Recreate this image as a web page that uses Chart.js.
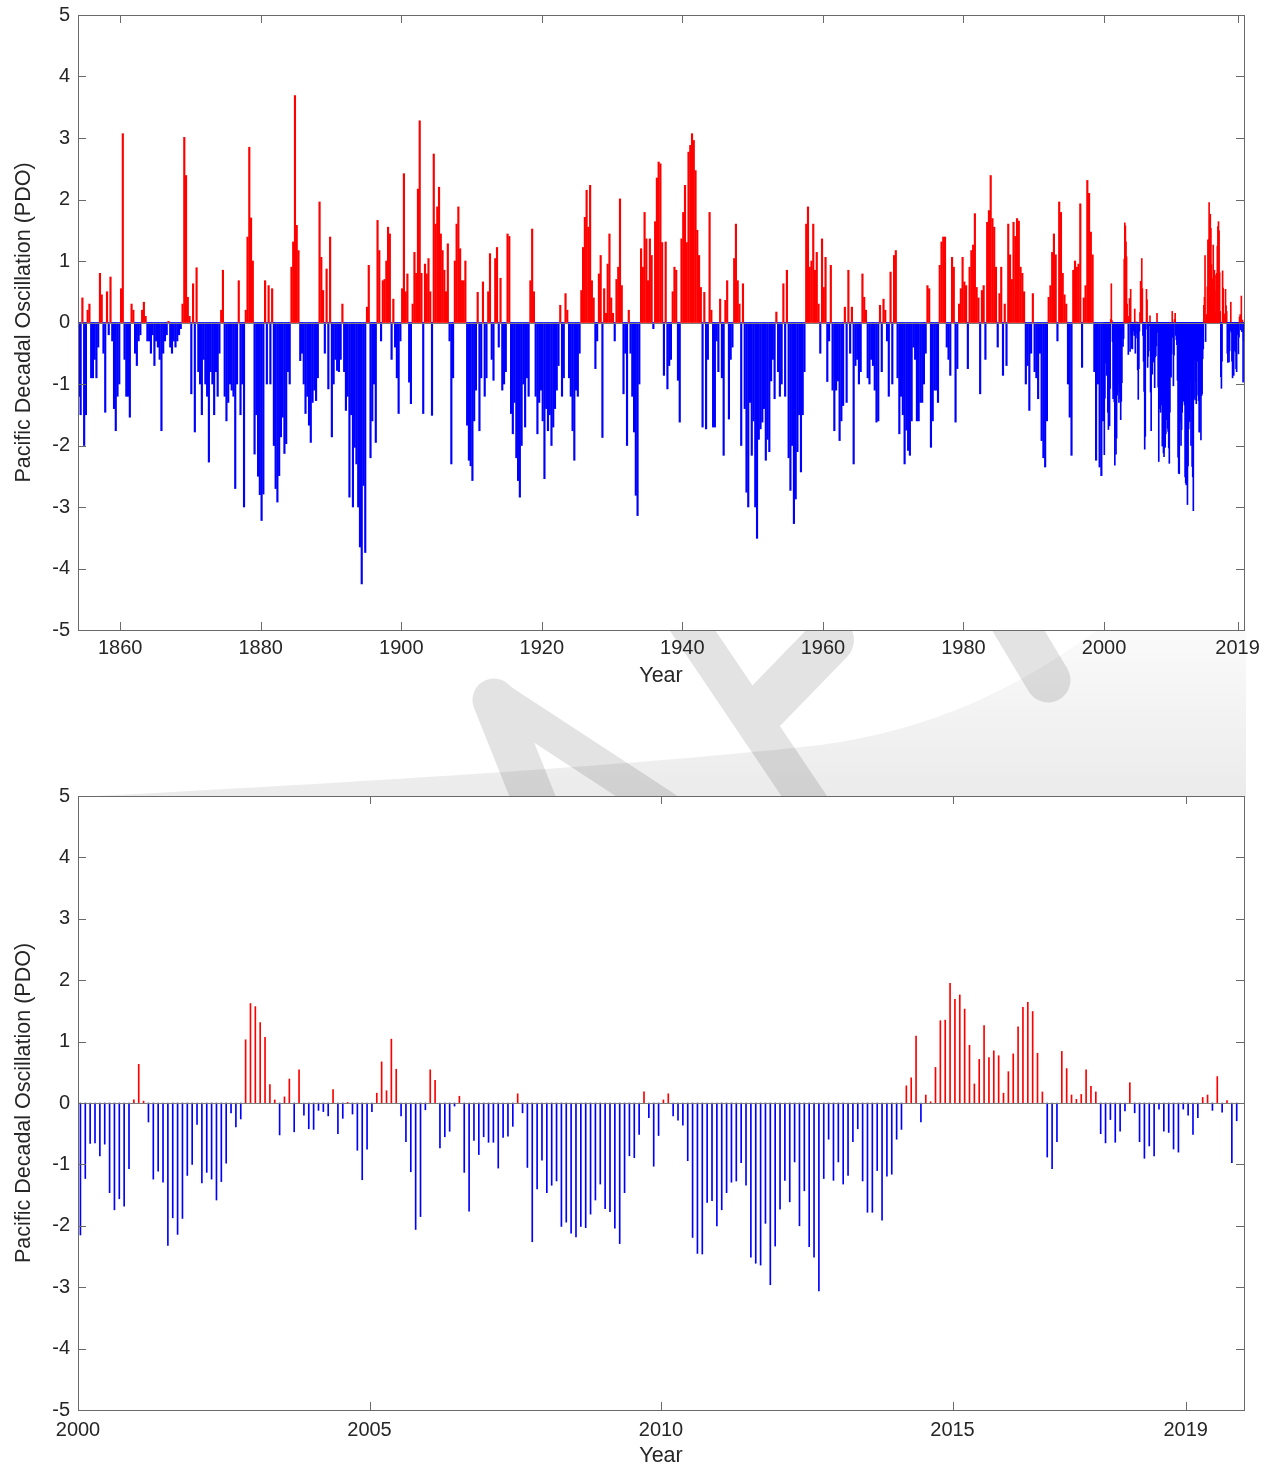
<!DOCTYPE html>
<html>
<head>
<meta charset="utf-8">
<script src="https://cdn.jsdelivr.net/npm/chart.js"></script>
<style>
  body { margin:0; background:#fff; }
  #wrap { position:relative; width:1271px; height:1469px; }
  canvas { display:block; }
  #bg { position:absolute; left:0; top:0; }
  .box { position:absolute; left:0; }
</style>
</head>
<body>
<div id="wrap">
  <canvas id="bg" width="1271" height="1469"></canvas>
  <div class="box" style="top:0px"><canvas id="dia1" width="1271" height="700"></canvas></div>
  <div class="box" style="top:781px"><canvas id="dia2" width="1271" height="688"></canvas></div>
</div>
<script>
// PDO, 4 values a year, 1854-1899
const pdo1854 = [
 -1.2,-1.5,0.4,-2.0, -1.5,0.2,0.3,-0.9, -0.9,-0.6,-0.9,-0.4,
 0.8,0.45,-0.5,-1.46, 0.5,-0.2,0.74,-0.3, -1.4,-1.76,-1.2,-1.0,
 0.55,3.07,-0.6,-1.2, -1.2,-1.54,0.3,0.2, -0.5,-0.7,-0.3,-0.2,
 0.2,0.33,0.1,-0.3, -0.3,-0.5,-0.2,-0.7, -0.3,-0.4,-0.6,-1.76,
 -0.5,-0.3,-0.2,0.02, -0.4,-0.5,-0.3,-0.4, -0.3,-0.2,-0.1,0.3,
 3.01,2.39,0.41,0.1, -1.16,0.63,-1.78,0.89, -0.8,-1.0,-1.5,-0.6,
 -1.0,-1.2,-2.27,-0.8, -1.0,-1.5,-0.8,-1.2, -0.5,0.2,0.85,-1.2,
 -1.6,-1.3,-1.0,-1.1, -1.2,-2.7,-1.0,0.68, -1.5,-1.0,-3.0,0.2,
 1.39,2.85,1.7,1.0, -2.14,-1.5,-2.5,-2.8, -3.22,-2.79,0.68,-1.0,
 0.6,-1.0,0.55,-2.0, -2.7,-2.92,-2.49,-1.86, -1.54,-2.13,-1.97,-0.8,
 -1.0,0.9,1.31,3.69, 1.58,1.17,-0.62,-0.5, -1.0,-1.48,-1.2,-1.67,
 -1.95,-1.3,-1.1,-1.27, -0.9,1.96,1.06,0.52, -0.5,0.87,-1.08,1.39,
 -1.86,-1.0,-0.6,-0.78, -0.8,-0.6,0.3,-0.8, -1.43,-1.2,-2.84,-1.5,
 -3.0,-2.03,-2.3,-3.0, -3.65,-4.25,-2.65,-3.74, 0.25,0.93,-2.2,-1.6,
 -1.0,-1.95,1.66,1.17, -0.3,0.68,0.7,1.0, 1.55,1.44,-0.6,0.38,
 -0.4,-0.9,-1.48,-0.3
];
// 1900-1949
const pdo1900 = [
 0.55,2.42,0.5,0.79, -0.97,-1.32,0.3,1.14, 0.8,2.17,3.28,0.8,
 -1.48,0.95,0.79,1.04, 0.5,-1.51,2.74,1.6, 1.88,2.2,1.44,1.17,
 0.85,0.5,1.28,-0.3, -2.3,-0.9,1.0,1.6, 1.88,1.2,0.68,0.68,
 1.0,-1.67,-2.24,-2.33, -2.57,-1.6,-1.1,0.49, -1.76,-0.9,0.66,-1.2,
 -0.9,0.5,1.12,-0.6, -0.94,1.04,1.22,-0.4, 0.72,-1.1,-1.0,-0.8,
 1.44,1.4,-1.48,-1.81, -1.3,-2.2,-2.57,-2.84, -2.0,-1.0,-1.7,-0.9,
 -1.2,0.68,1.52,0.5, -1.2,-1.81,-1.3,-1.1, -1.6,-2.54,-1.4,-1.76,
 -1.5,-2.0,-1.7,-1.4, -1.1,-0.7,0.28,-1.2, -0.9,0.47,0.2,-0.9,
 -1.2,-1.76,-2.24,-1.1, -1.2,-0.5,0.52,1.22, 1.71,2.15,1.55,2.23,
 0.68,0.4,-0.75,-0.3, 0.79,1.09,-1.87,0.55, 0.15,0.95,1.44,0.4,
 0.15,-0.3,0.7,0.9, 2.01,0.6,-1.16,-0.5, -2.0,0.2,-0.5,-1.2,
 -1.78,-2.81,-3.14,-1.0, 1.2,0.9,1.79,1.36, 0.68,1.36,1.09,-0.1,
 1.64,2.35,2.61,2.58, 1.3,-0.86,1.31,-1.08, -0.7,-0.6,0.5,0.9,
 0.85,-0.94,-1.62,1.36, 1.79,2.23,1.3,2.77, 2.88,3.07,2.96,2.47,
 1.5,1.09,0.57,-1.7, 0.49,-1.73,-0.6,1.79, 0.2,-1.7,-1.7,-0.3,
 -0.8,0.38,-0.9,-2.16, 0.36,0.68,-1.57,-0.6, -0.4,1.04,1.6,0.68,
 0.3,-2.0,0.63,-1.4, -2.76,-3.0,-1.3,-2.16
];
// 1950-1999
const pdo1950 = [
 -1.6,-3.0,-3.51,-1.9, -1.73,-1.62,-1.4,-2.24, -1.9,-2.1,-0.95,-0.6,
 -1.24,0.17,-0.8,-1.2, -1.0,0.63,-1.2,0.85, -2.2,-2.73,-2.0,-3.27,
 -2.87,-2.1,-1.5,-2.43, -1.5,-0.8,1.6,1.88, 0.9,1.0,1.6,0.85,
 1.14,0.3,-0.5,1.36, 0.57,1.06,-0.96,-0.3, 0.93,-1.1,-1.76,-1.1,
 -0.95,-1.92,-1.6,-1.35, 0.25,-1.3,0.85,-0.5, 0.25,-2.3,-0.7,-0.6,
 -1.0,-0.8,0.79,0.41, 0.2,-0.9,-1.0,-0.6, -0.7,-1.1,-1.62,-1.6,
 0.28,-0.8,0.38,0.2, -0.3,-1.2,0.82,-1.0, 1.09,1.17,-0.9,-1.81,
 -1.2,-1.5,-2.3,-1.75, -2.08,-2.16,-1.6,-0.4, -0.6,-1.6,-1.6,-1.3,
 -1.3,-1.0,-0.5,0.6, 0.55,-2.03,-1.6,-1.1, -1.1,-1.3,0.93,1.31,
 1.39,1.39,-0.4,-0.6, -0.86,1.06,0.9,-1.62, -0.75,0.3,0.55,1.06,
 0.66,0.6,-0.75,0.9, 1.17,1.26,1.77,0.57, 0.4,-1.16,0.52,0.6,
 -0.6,1.63,1.82,2.39, 1.69,1.55,0.9,-0.4, 0.47,0.9,-0.86,0.3,
 -0.7,1.6,1.1,0.7, 1.63,1.4,1.69,1.65, 0.9,0.8,0.5,-1.0,
 -0.7,-1.43,-0.5,0.47, -0.8,-0.9,-1.24,-0.5, -1.92,-2.2,-2.35,-1.6,
 0.41,0.6,1.14,1.44, 1.1,-0.3,1.96,1.79, 0.8,0.45,0.3,-1.0,
 -1.54,-2.16,0.85,1.0, 0.9,0.95,1.93,-0.73, 0.4,0.6,2.31,2.1,
 1.47,1.1,-0.8,-2.24, -1.0,-2.35,-2.49,-1.6
];
// monthly PDO, Jan 2000 .. Nov 2019 (zoomed plot)
const pdo2000 = [
 -2.15,-1.23,-0.66,-0.65,-0.86,-0.67,-1.46,-1.74,-1.56,-1.68,-1.07,0.05,
 0.63,0.03,-0.31,-1.24,-1.11,-1.29,-2.32,-1.87,-2.14,-1.88,-1.18,-1.00,
 -0.35,-1.30,-1.13,-1.24,-1.58,-1.28,-0.98,-0.16,-0.39,-0.26,1.03,1.62,
 1.57,1.31,1.07,0.30,0.05,-0.52,0.10,0.39,-0.47,0.54,-0.20,-0.42,
 -0.43,-0.12,-0.14,-0.21,0.22,-0.50,-0.25,0.01,-0.18,-0.77,-1.25,-0.75,
 -0.14,0.16,0.67,0.20,1.04,0.55,-0.21,-0.63,-1.12,-2.06,-1.85,-0.11,
 0.54,0.37,-0.73,-0.55,-0.46,-0.05,0.11,-1.13,-1.76,-0.61,-0.84,-0.55,
 -0.64,-0.64,-1.06,-0.56,-0.54,-0.38,0.15,-0.16,-1.05,-2.26,-1.40,-0.93,
 -1.46,-1.34,-1.27,-2.01,-1.94,-2.12,-2.18,-2.01,-2.03,-1.81,-1.58,-1.32,
 -1.72,-1.77,-2.04,-2.29,-1.46,-0.86,-0.89,-0.51,0.18,-0.24,-1.03,-0.53,
 0.05,0.15,-0.21,-0.28,-0.36,-0.94,-2.19,-2.45,-2.46,-1.62,-1.59,-2.00,
 -1.74,-1.46,-1.29,-1.27,-0.97,-1.34,-2.51,-2.61,-2.64,-1.96,-2.96,-2.33,
 -1.73,-1.26,-1.61,-0.96,-2.00,-1.43,-2.34,-2.51,-3.06,-1.23,-0.59,-1.26,
 -0.96,-1.32,-1.18,-0.63,-0.42,-1.27,-1.78,-1.78,-1.10,-1.91,-1.19,-1.16,
 -0.59,-0.43,0.28,0.41,1.09,-0.31,0.13,0.02,0.58,1.34,1.35,1.95,
 1.69,1.76,1.53,0.94,0.31,0.71,1.26,0.74,0.85,0.77,0.16,0.51,
 0.80,1.24,1.56,1.64,1.49,0.81,0.18,-0.88,-1.07,-0.63,0.84,0.56,
 0.13,0.06,0.14,0.54,0.27,0.18,-0.50,-0.65,-0.27,-0.64,-0.46,-0.13,
 0.33,-0.16,-0.63,-0.90,-0.70,-0.86,-0.10,-0.46,-0.48,-0.75,-0.80,-0.10,
 -0.20,-0.51,-0.24,0.09,0.13,-0.12,0.43,-0.15,0.04,-0.97,-0.29
];
const yearTicks = [1860,1880,1900,1920,1940,1960,1980,2000,2019];
const zoomTicks = [2000,2005,2010,2015,2019];
const pdoTicks = [-5,-4,-3,-2,-1,0,1,2,3,4,5];

let quarterly = pdo1854.concat(pdo1900, pdo1950);
let histPts = quarterly.map((v,i) => ({x: 1854 + (i+0.5)/4, y: v}));
let monthPts = pdo2000.map((v,i) => ({x: 2000 + (i+0.5)/12, y: v}));

const fam = "'Liberation Sans', Arial, Helvetica, sans-serif";
const tickFont = {family: fam, size: 20};
const titleFont = {family: fam, size: 21.5};
const ink = '#262626';

function barColor(c){
  return c.raw && c.raw.y >= 0 ? '#ff0000' : '#0000ff';
}

// watermark behind the two plots
const bg = document.getElementById('bg').getContext('2d');
let grad = bg.createLinearGradient(0,625,0,797);
grad.addColorStop(0,'#fbfbfb');
grad.addColorStop(1,'#ebebeb');
bg.fillStyle = grad;
bg.beginPath();
bg.moveTo(77,797);
bg.quadraticCurveTo(600,770,820,745);
bg.bezierCurveTo(930,730,1020,690,1110,620);
bg.lineTo(1246,620);
bg.lineTo(1246,797);
bg.closePath();
bg.fill();
let off = document.createElement('canvas');
off.width = 1271; off.height = 1469;
let o = off.getContext('2d');
o.strokeStyle = '#000';
o.lineCap = 'round';
function seg(x1,y1,x2,y2,w){
  o.lineWidth = w;
  o.beginPath(); o.moveTo(x1,y1); o.lineTo(x2,y2); o.stroke();
}
seg(494,700,540,815,43);
seg(500,700,665,808,34);
seg(672,600,815,812,38);
seg(764,708,830,640,48);
seg(1000,600,1048,680,45);
bg.globalAlpha = 0.11;
bg.drawImage(off,0,0);
bg.globalAlpha = 1;

// matlab style box, inner ticks and the bar base line
const boxPlugin = {
  id:'box',
  beforeDraw(chart){
    const a = chart.chartArea, ctx = chart.ctx;
    ctx.save();
    ctx.fillStyle = '#fff';
    ctx.fillRect(a.left, a.top, a.right-a.left, a.bottom-a.top);
    ctx.restore();
  },
  afterDatasetsDraw(chart){
    const ctx = chart.ctx, a = chart.chartArea;
    const x = chart.scales.x, y = chart.scales.y;
    ctx.save();
    ctx.lineWidth = 1;
    let y0 = Math.round(y.getPixelForValue(0)) + 0.5;
    ctx.strokeStyle = '#7c7c7c';
    ctx.beginPath(); ctx.moveTo(a.left,y0); ctx.lineTo(a.right,y0); ctx.stroke();
    ctx.strokeStyle = '#6a6a6a';
    ctx.beginPath();
    x.ticks.forEach(t => {
      let px = Math.round(x.getPixelForValue(t.value)) + 0.5;
      ctx.moveTo(px,a.bottom); ctx.lineTo(px,a.bottom-8);
      ctx.moveTo(px,a.top); ctx.lineTo(px,a.top+8);
    });
    y.ticks.forEach(t => {
      let py = Math.round(y.getPixelForValue(t.value)) + 0.5;
      ctx.moveTo(a.left,py); ctx.lineTo(a.left+8,py);
      ctx.moveTo(a.right,py); ctx.lineTo(a.right-8,py);
    });
    ctx.stroke();
    ctx.strokeRect(Math.round(a.left)+0.5, Math.round(a.top)+0.5, Math.round(a.right-a.left), Math.round(a.bottom-a.top));
    ctx.restore();
  }
};

function makeChart(el, sets, xmin, xmax, xticks, xHeight, labelPad, titlePad){
  return new Chart(el, {
    type:'bar',
    data:{datasets: sets},
    options:{
      responsive:false,
      animation:false,
      layout:{padding:{top:15, right:27, left:0, bottom:0}},
      plugins:{legend:{display:false}, tooltip:{enabled:false}},
      scales:{
        x:{
          type:'linear', min:xmin, max:xmax, offset:false,
          afterBuildTicks: s => { s.ticks = xticks.map(v => ({value:v})); },
          afterFit: s => { s.height = xHeight; },
          ticks:{autoSkip:false, maxRotation:0, padding:labelPad, font:tickFont, color:ink, callback: v => String(v)},
          grid:{display:false, drawTicks:false},
          border:{display:false},
          title:{display:true, text:'Year', font:titleFont, color:ink, padding:{top:0, bottom:titlePad}}
        },
        y:{
          min:-5, max:5,
          afterBuildTicks: s => { s.ticks = pdoTicks.map(v => ({value:v})); },
          afterFit: s => { s.width = 78; s.paddingTop = 0; s.paddingBottom = 0; },
          ticks:{padding:8, font:tickFont, color:ink, callback: v => String(v)},
          grid:{display:false, drawTicks:false},
          border:{display:false},
          title:{display:true, text:'Pacific Decadal Oscillation (PDO)', font:titleFont, color:ink, padding:{top:11, bottom:0}}
        }
      }
    },
    plugins:[boxPlugin]
  });
}

// long record 1854-2019
makeChart(document.getElementById('dia1'), [
  {data: histPts, backgroundColor: barColor, borderWidth:0, grouped:false, barThickness:1.5},
  {data: monthPts, backgroundColor: barColor, borderWidth:0, grouped:false, barThickness:1}
], 1854, 2019.92, yearTicks, 70, 6, 11);

// zoom on 2000-2019
makeChart(document.getElementById('dia2'), [
  {data: monthPts, backgroundColor: barColor, borderWidth:0, grouped:false, barThickness:1}
], 2000, 2020, zoomTicks, 59, 8, 0);
</script>
</body>
</html>
